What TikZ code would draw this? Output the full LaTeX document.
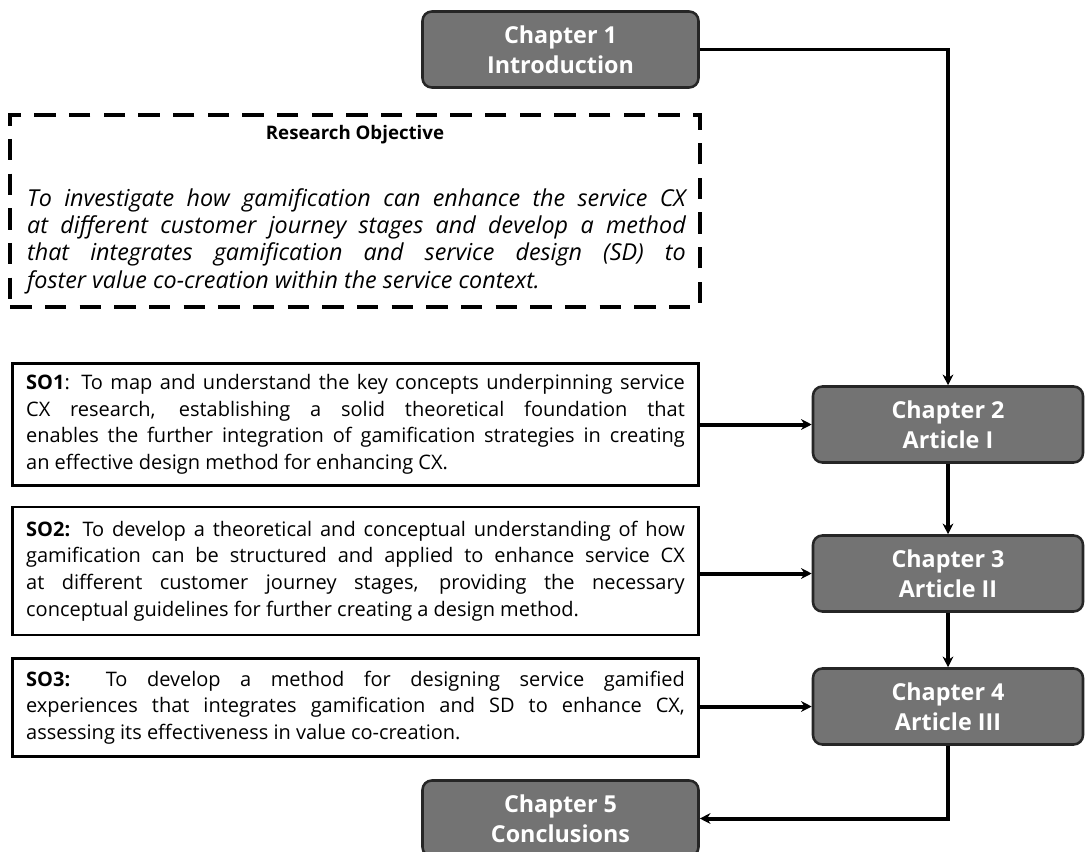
\documentclass[tikz,border=0pt]{standalone}
\usepackage{fontspec}
\setmainfont{Open Sans}
\usetikzlibrary{positioning,calc,arrows.meta}
\definecolor{chapfill}{HTML}{737373}
\definecolor{chapline}{HTML}{262626}
\hyphenpenalty=10000
\exhyphenpenalty=10000

\begin{document}
\begin{tikzpicture}[x=0.75pt,y=-0.75pt,
    chap/.style={rectangle,rounded corners=7pt,draw=chapline,line width=1.9pt,fill=chapfill,text=white,minimum width=207pt,minimum height=57pt,align=center,font=\bfseries\fontsize{17.5}{22.5}\selectfont},
    sobox/.style={rectangle,draw,line width=2.2pt,text width=494pt,inner xsep=10.5pt,align=justify,font=\fontsize{15}{19.9}\selectfont},
    objbox/.style={rectangle,draw,line width=3pt,dash pattern=on 16pt off 10pt,minimum width=517pt,minimum height=144pt},
    arrow/.style={-{Stealth[length=8pt,width=8pt]},line width=3pt}]
\useasboundingbox (0,0) rectangle (1085,852);

% chapters
\node[chap] (ch1) at (560.5,49.5) {Chapter 1\\Introduction};
\node[chap,minimum width=202.5pt] (ch2) at (948,424.5) {Chapter 2\\Article I};
\node[chap,minimum width=202.5pt] (ch3) at (948,573.5) {Chapter 3\\Article II};
\node[chap,minimum width=202.5pt] (ch4) at (948,706.5) {Chapter 4\\Article III};
\node[chap] (ch5) at (560.5,818.5) {Chapter 5\\Conclusions};

% research objective
\node[objbox] (obj) at (355,211) {};
\node[font=\bfseries\fontsize{14}{16}\selectfont] (objtitle) at (355,135) {Research Objective};
\node[text width=494pt,inner sep=0pt,align=justify,font=\itshape\fontsize{17.5}{20.5}\selectfont] (objtext) at (356.5,241)
  {To investigate how gamification can enhance the service CX\linebreak
   at different customer journey stages and develop a method\linebreak
   that integrates gamification and service design (SD) to\linebreak
   foster value co-creation within the service context.};

% specific objectives
\node[sobox,minimum height=92pt] (so1) at (355.5,424.5)
  {\textbf{SO1}: To map and understand the key concepts underpinning service\linebreak
   CX research, establishing a solid theoretical foundation that\linebreak
   enables the further integration of gamification strategies in creating\linebreak
   an effective design method for enhancing CX.};
\node[sobox,minimum height=96pt] (so2) at (355.5,571)
  {\textbf{SO2:} To develop a theoretical and conceptual understanding of how\linebreak
   gamification can be structured and applied to enhance service CX\linebreak
   at different customer journey stages, providing the necessary\linebreak
   conceptual guidelines for further creating a design method.};
\node[sobox,minimum height=73pt] (so3) at (355.5,707.5)
  {\textbf{SO3:} To develop a method for designing service gamified\linebreak
   experiences that integrates gamification and SD to enhance CX,\linebreak
   assessing its effectiveness in value co-creation.};

\draw[arrow,line width=2.5pt] (ch1.east) -| (ch2.north);
\draw[arrow] (so1.east |- ch2.west) -- (ch2.west);
\draw[arrow] (ch2) -- (ch3);
\draw[arrow] (so2.east |- ch3.west) -- (ch3.west);
\draw[arrow] (ch3) -- (ch4);
\draw[arrow] (so3.east |- ch4.west) -- (ch4.west);
\draw[arrow] (ch4.south) |- (ch5.east);

\end{tikzpicture}
\end{document}
